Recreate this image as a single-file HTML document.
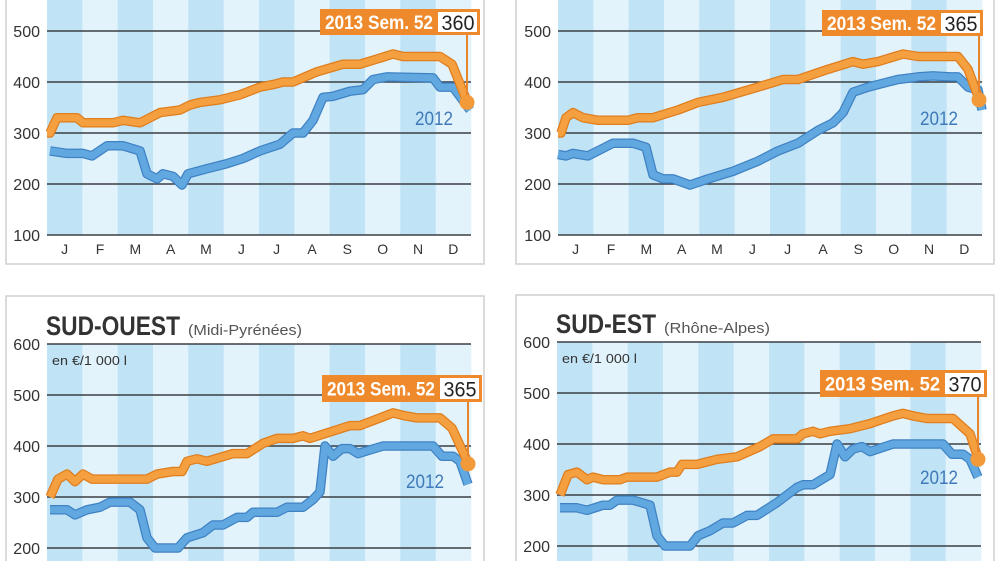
<!DOCTYPE html>
<html><head><meta charset="utf-8"><style>
html,body{margin:0;padding:0;background:#fff;width:1000px;height:561px;overflow:hidden}
svg{display:block;overflow:hidden}
text{font-family:"Liberation Sans",sans-serif}
</style></head><body>
<svg id="s" width="1000" height="561" viewBox="0 0 1000 561" xmlns="http://www.w3.org/2000/svg"></svg>
<script>
const S=document.getElementById('s');let h='';
const months=['J','F','M','A','M','J','J','A','S','O','N','D'];
function panel(o){
  const {px,y500,ticks,topPanel,or,bl,val,box,lab,title,sub,bx}=o;
  const W=424,sw=W/12,yv=v=>y500+(500-v)*0.51;
  if(topPanel) h+=`<path d="M${bx} 0 V264 H${bx+478} V0" fill="none" stroke="#cfcfcf" stroke-width="1.5"/>`;
  else h+=`<path d="M${bx} 561 V${o.btop} H${bx+478} V561" fill="none" stroke="#cfcfcf" stroke-width="1.5"/>`;
  const ytop=topPanel?0:yv(600), ybot=topPanel?yv(100):561;
  for(let i=0;i<12;i++){h+=`<rect x="${px+i*sw}" y="${ytop}" width="${sw+0.3}" height="${ybot-ytop}" fill="${i%2?'#e2f3fc':'#c0e3f6'}"/>`;}
  ticks.forEach(v=>{const y=yv(v);h+=`<line x1="${px}" x2="${px+W}" y1="${y}" y2="${y}" stroke="#3a3f44" stroke-width="1.5"/>`;
    h+=`<text x="${px-7}" y="${y+6}" font-size="16" fill="#333" text-anchor="end">${v}</text>`;});
  if(topPanel) months.forEach((m,i)=>{h+=`<text x="${px+i*sw+sw/2}" y="${yv(100)+19}" font-size="14" fill="#333" text-anchor="middle">${m}</text>`;});
  if(title){h+=`<text x="${px-1}" y="${yv(600)-9}" font-size="27" font-weight="bold" fill="#333" textLength="${o.tl}" lengthAdjust="spacingAndGlyphs">${title}</text>`;
    h+=`<text x="${px+o.tl+7}" y="${yv(600)-9}" font-size="15" fill="#555" textLength="${o.sl}" lengthAdjust="spacingAndGlyphs">${sub}</text>`;
    h+=`<text x="${px+5}" y="${yv(600)+21}" font-size="13" fill="#333" textLength="75" lengthAdjust="spacingAndGlyphs">en €/1 000 l</text>`;}
  const path=a=>a.map((p,i)=>(i?'L':'M')+(px+p[0]).toFixed(1)+' '+yv(p[1]).toFixed(1)).join(' ');
  h+=`<path d="${path(bl)}" fill="none" stroke="#3f82c4" stroke-width="9.5" stroke-linejoin="round"/>`;
  h+=`<path d="${path(bl)}" fill="none" stroke="#62a8e0" stroke-width="7" stroke-linejoin="round"/>`;
  h+=`<path d="${path(or)}" fill="none" stroke="#e07d1c" stroke-width="9.5" stroke-linejoin="round"/>`;
  h+=`<path d="${path(or)}" fill="none" stroke="#f5a040" stroke-width="7" stroke-linejoin="round"/>`;
  const ex=px+or[or.length-1][0],ey=yv(val);
  h+=`<line x1="${ex}" x2="${ex}" y1="${box[1]+box[3]}" y2="${ey}" stroke="#e8852a" stroke-width="2"/>`;
  h+=`<circle cx="${ex}" cy="${ey}" r="7.5" fill="#f29a3a"/>`;
  h+=`<rect x="${box[0]}" y="${box[1]}" width="${box[2]}" height="${box[3]}" fill="#ee8a2c"/>`;
  h+=`<rect x="${box[0]+box[2]-42}" y="${box[1]+3}" width="39" height="${box[3]-6}" fill="#fff"/>`;
  h+=`<text x="${box[0]+5}" y="${box[1]+box[3]/2+7}" font-size="19" font-weight="bold" fill="#fff" textLength="${box[2]-52}" lengthAdjust="spacingAndGlyphs">2013 Sem. 52</text>`;
  h+=`<text x="${box[0]+box[2]-22}" y="${box[1]+box[3]/2+8}" font-size="21" fill="#222" text-anchor="middle" textLength="33" lengthAdjust="spacingAndGlyphs">${val}</text>`;
  h+=`<text x="${lab[0]}" y="${lab[1]}" font-size="19" fill="#3f79b8" textLength="38" lengthAdjust="spacingAndGlyphs">2012</text>`;
}
panel({px:47,y500:31,bx:6,ticks:[500,400,300,200,100],topPanel:true,val:360,box:[320,9,160,26],lab:[415,125],
or:[[0,300],[3,300],[10,330],[30,330],[36,320],[66,320],[76,325],[93,320],[103,330],[113,340],[133,345],[143,355],[153,360],[173,365],[193,375],[213,390],[226,395],[236,400],[246,400],[270,420],[296,435],[313,435],[330,445],[346,455],[356,450],[393,450],[405,435],[420,362]],
bl:[[3,265],[20,260],[36,260],[45,255],[60,275],[76,275],[93,265],[100,220],[110,210],[116,220],[126,215],[135,198],[141,220],[160,230],[180,240],[196,250],[213,265],[233,278],[246,300],[256,300],[266,325],[276,370],[286,372],[303,382],[316,385],[326,405],[340,410],[386,408],[393,390],[406,390],[423,345]]});
panel({px:558,y500:31,bx:516,ticks:[500,400,300,200,100],topPanel:true,val:365,box:[822,10,161,26],lab:[920,125],
or:[[0,300],[3,300],[8,330],[15,340],[25,330],[40,325],[70,325],[80,330],[95,330],[120,345],[140,360],[165,370],[200,390],[225,405],[240,405],[270,425],[295,440],[305,435],[320,440],[345,455],[360,450],[400,450],[410,425],[421,367]],
bl:[[0,258],[8,255],[15,260],[30,255],[45,270],[55,280],[75,280],[88,272],[95,218],[105,210],[115,210],[132,198],[150,210],[175,225],[200,245],[220,265],[240,280],[260,305],[275,320],[285,340],[295,380],[310,390],[340,405],[360,410],[375,412],[392,410],[400,410],[410,390],[420,385],[424,345]]});
panel({px:47,y500:395,bx:6,btop:296,tl:134,sl:114,ticks:[600,500,400,300,200],topPanel:false,val:365,box:[322,375,160,27],lab:[406,488],title:'SUD-OUEST',sub:'(Midi-Pyrénées)',
or:[[3,300],[11,335],[20,345],[28,330],[36,345],[45,335],[100,335],[110,345],[126,350],[135,350],[140,370],[150,375],[160,370],[186,385],[200,385],[216,405],[230,415],[246,415],[256,420],[263,415],[303,440],[313,440],[333,455],[346,465],[356,460],[370,455],[393,455],[405,435],[421,367]],
bl:[[3,275],[20,275],[28,265],[40,275],[53,280],[63,290],[83,290],[93,275],[100,220],[108,200],[131,200],[140,220],[156,230],[166,245],[176,245],[190,260],[200,260],[206,270],[230,270],[240,280],[256,280],[266,295],[273,310],[278,400],[286,380],[295,395],[303,395],[311,385],[336,400],[386,400],[395,380],[406,380],[413,370],[421,325]]});
panel({px:557,y500:393,bx:516,btop:295,tl:100,sl:106,ticks:[600,500,400,300,200],topPanel:false,val:370,box:[820,370,167,27],lab:[920,484],title:'SUD-EST',sub:'(Rhône-Alpes)',
or:[[3,300],[11,340],[20,345],[30,330],[36,335],[46,330],[63,330],[70,335],[100,335],[113,345],[120,345],[125,360],[140,360],[160,370],[180,375],[203,395],[216,410],[240,410],[246,420],[256,425],[263,420],[273,425],[293,430],[313,440],[336,455],[346,460],[356,455],[370,450],[396,450],[413,420],[421,372]],
bl:[[3,275],[20,275],[30,270],[46,280],[53,280],[60,290],[76,290],[93,280],[100,220],[108,200],[133,200],[141,220],[153,230],[166,245],[176,245],[190,260],[200,260],[220,285],[240,315],[246,320],[256,320],[273,340],[280,400],[288,375],[296,390],[305,395],[313,385],[336,400],[386,400],[395,380],[406,380],[413,370],[421,335]]});
S.innerHTML=h;
</script>
</body></html>
